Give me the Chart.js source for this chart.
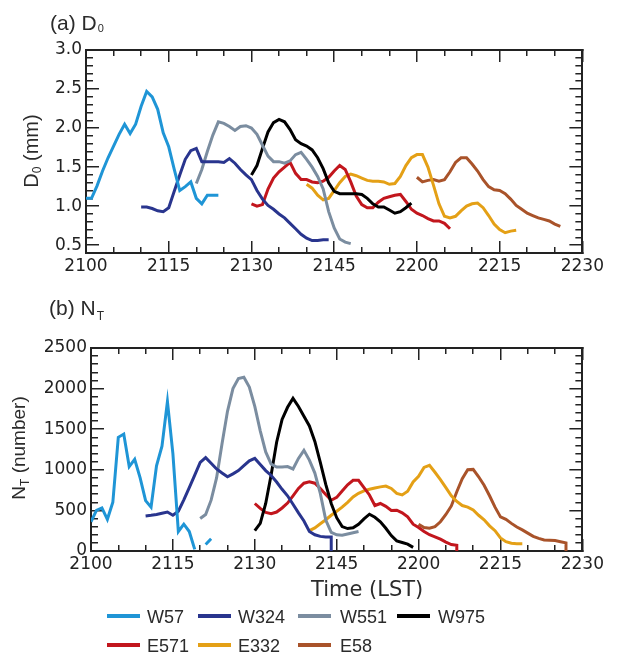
<!DOCTYPE html>
<html>
<head>
<meta charset="utf-8">
<script src="https://cdn.jsdelivr.net/npm/chart.js@4.4.0/dist/chart.umd.min.js"></script>
<style>
  html, body { margin: 0; padding: 0; background: #fff; }
  #wrap { position: relative; width: 619px; height: 653px; overflow: hidden;
          font-family: 'Liberation Sans', Arial, sans-serif; color: #2b2b2b; }
  canvas { position: absolute; left: 0; }
  #chartA { top: 0; }
  #chartB { top: 300px; }
  .txt { position: absolute; white-space: nowrap; line-height: 1; }
  .panel { font-size: 21px; }
  .ytitle { font-size: 20px; transform: translate(-50%, -50%) rotate(-90deg); }
  .xtitle { font-family: 'DejaVu Sans', sans-serif; font-size: 21px; }
  .sub { position: relative; }
  .leg { position: absolute; font-size: 18px; line-height: 18px; white-space: nowrap; }
  .sw { position: absolute; width: 33px; height: 4px; }
</style>
</head>
<body>
<div id="wrap">
  <canvas id="chartA" width="619" height="300"></canvas>
  <canvas id="chartB" width="619" height="300"></canvas>

  <div class="txt panel" style="left:50px; top:12px;">(a) D<span class="sub" style="font-size:11px; top:2px; margin-left:1px;">0</span></div>
  <div class="txt panel" style="left:49px; top:297px;">(b) N<span class="sub" style="font-size:12px; top:5px; margin-left:1px;">T</span></div>

  <div class="txt ytitle" style="left:31px; top:151px;">D<span class="sub" style="font-size:12px; top:3px;">0</span> (mm)</div>
  <div class="txt ytitle" style="left:18px; top:448px; font-size:19px;">N<span class="sub" style="font-size:12px; top:4px;">T</span> (number)</div>

  <div class="txt xtitle" style="left:311px; top:579px;">Time (LST)</div>
  <div id="legend"></div>
</div>

<script>
// minutes after 2100 LST on the x axis
const xTicks = [0, 15, 30, 45, 60, 75, 90];
const xTickLabels = ['2100', '2115', '2130', '2145', '2200', '2215', '2230'];
const yTicksD0 = [0.5, 1.0, 1.5, 2.0, 2.5, 3.0];
const yTicksNT = [0, 500, 1000, 1500, 2000, 2500];

const seriesNames = ['W57', 'W324', 'W551', 'W975', 'E571', 'E332', 'E58'];
const seriesColors = ['#1f95d6', '#29358e', '#7b8da0', '#000000', '#c2161d', '#e4a016', '#a9532a'];

// (a) median volume diameter D0 (mm), one value per minute from the start minute
const d0Start = [0, 10, 20, 30, 30, 40, 60];
const d0W57 = [1.10, 1.10, 1.26, 1.45, 1.62, 1.77, 1.92, 2.05, 1.93, 2.05, 2.28, 2.47, 2.40, 2.24, 1.94, 1.76, 1.47, 1.20, 1.25, 1.31, 1.10, 1.03, 1.14, 1.14, 1.14];
const d0W324 = [0.99, 0.99, 0.97, 0.94, 0.93, 0.98, 1.19, 1.40, 1.60, 1.71, 1.74, 1.57, 1.57, 1.57, 1.57, 1.56, 1.61, 1.55, 1.47, 1.40, 1.34, 1.20, 1.09, 1.01, 0.96, 0.90, 0.85, 0.78, 0.71, 0.64, 0.59, 0.56, 0.56, 0.57, 0.57];
const d0W551 = [1.29, 1.47, 1.70, 1.91, 2.08, 2.06, 2.02, 1.97, 2.02, 2.03, 2.00, 1.92, 1.78, 1.64, 1.57, 1.57, 1.55, 1.58, 1.66, 1.69, 1.60, 1.50, 1.38, 1.22, 0.93, 0.72, 0.58, 0.54, 0.52];
const d0W975 = [1.40, 1.52, 1.74, 1.95, 2.07, 2.11, 2.08, 1.98, 1.85, 1.80, 1.77, 1.72, 1.62, 1.48, 1.30, 1.19, 1.16, 1.16, 1.16, 1.16, 1.15, 1.10, 1.03, 0.99, 0.99, 0.95, 0.91, 0.93, 0.98, 1.04];
const d0E571 = [1.03, 1.00, 1.02, 1.22, 1.36, 1.44, 1.50, 1.56, 1.42, 1.34, 1.34, 1.31, 1.30, 1.32, 1.37, 1.45, 1.52, 1.47, 1.31, 1.13, 1.02, 0.98, 0.98, 1.05, 1.10, 1.12, 1.14, 1.15, 1.06, 0.96, 0.91, 0.88, 0.84, 0.81, 0.81, 0.78, 0.71];
const d0E332 = [1.28, 1.23, 1.14, 1.08, 1.10, 1.20, 1.30, 1.38, 1.41, 1.39, 1.36, 1.33, 1.32, 1.32, 1.31, 1.28, 1.29, 1.38, 1.52, 1.62, 1.66, 1.66, 1.50, 1.27, 1.03, 0.87, 0.85, 0.87, 0.94, 1.00, 1.03, 1.04, 0.98, 0.88, 0.77, 0.70, 0.66, 0.68, 0.69];
const d0E58 = [1.37, 1.31, 1.33, 1.34, 1.32, 1.34, 1.44, 1.56, 1.62, 1.62, 1.54, 1.45, 1.34, 1.25, 1.21, 1.20, 1.16, 1.09, 1.01, 0.96, 0.91, 0.88, 0.85, 0.83, 0.81, 0.77, 0.74];

// (b) total number concentration NT, one value per minute from the start minute
const ntStart = [0, 10, 20, 30, 30, 40, 60];
const ntW57 = [360, 500, 530, 390, 600, 1400, 1440, 1040, 1130, 900, 620, 540, 1050, 1290, 1840, 1200, 240, 330, 240, 20, null, 80, 150];
const ntW324 = [432, 440, 450, 465, 480, 441, 490, 630, 780, 935, 1090, 1150, 1080, 1010, 960, 914, 950, 990, 1050, 1110, 1140, 1065, 990, 930, 850, 760, 680, 575, 470, 370, 240, 200, 180, 173, 173];
const ntW551 = [400, 450, 626, 900, 1320, 1720, 2000, 2125, 2140, 2020, 1780, 1480, 1220, 1070, 1035, 1035, 1040, 1010, 1140, 1240, 1120, 960, 710, 380, 230, 200, 195, 210, 225, 240];
const ntW975 = [250, 340, 585, 940, 1340, 1620, 1770, 1880, 1780, 1660, 1540, 1350, 1090, 820, 585, 410, 300, 276, 285, 330, 395, 453, 415, 360, 280, 190, 125, 105, 85, 45];
const ntE571 = [585, 525, 475, 460, 480, 530, 590, 680, 770, 835, 853, 835, 770, 695, 625, 660, 740, 815, 870, 870, 780, 690, 560, 585, 550, 500, 503, 470, 420, 330, 290, 240, 200, 175, 145, 110, 80, 70];
const ntE332 = [250, 285, 335, 385, 440, 490, 540, 600, 665, 710, 740, 760, 775, 790, 800, 770, 710, 690, 735, 850, 920, 1030, 1055, 970, 880, 780, 680, 610, 560, 540, 505, 440, 385, 310, 250, 160, 115, 95, 90, 90];
const ntE58 = [330, 290, 280, 300, 360, 450, 555, 730, 890, 1000, 1005, 914, 810, 680, 540, 420, 390, 340, 295, 260, 220, 180, 155, 135, 132, 130, 115, 100];
// these records end with a drop straight down to zero
const ntEndsAtZero = ['W324', 'E571', 'E58'];

const d0Values = [d0W57, d0W324, d0W551, d0W975, d0E571, d0E332, d0E58];
const ntValues = [ntW57, ntW324, ntW551, ntW975, ntE571, ntE332, ntE58];

function toPoints(start, values) {
  return values.map((v, i) => ({ x: start + i, y: v }));
}

function makeDatasets(starts, values, dropToZero) {
  return seriesNames.map((name, k) => {
    const pts = toPoints(starts[k], values[k]);
    if (dropToZero && dropToZero.includes(name)) {
      pts.push({ x: pts[pts.length - 1].x, y: 0 });
    }
    return {
      label: name,
      data: pts,
      xAxisID: 'x',
      yAxisID: 'y',
      borderColor: seriesColors[k],
      backgroundColor: seriesColors[k],
      borderWidth: 3,
      pointRadius: 0,
      tension: 0,
      fill: false,
      spanGaps: false
    };
  });
}

function stepValues(min, max, step) {
  const out = [];
  const k0 = Math.ceil(min / step - 1e-6);
  const k1 = Math.floor(max / step + 1e-6);
  for (let k = k0; k <= k1; k++) out.push(+(k * step).toFixed(6));
  return out;
}

const tickFont = { family: "'DejaVu Sans', sans-serif", size: 17 };
const frameColor = '#222';

// an extra axis with no labels that only draws inward tick marks (negative tick length)
function edgeScale(position, min, max, values, tickLen, weight, border) {
  const horizontal = position === 'top' || position === 'bottom';
  return {
    type: 'linear',
    position: position,
    min: min,
    max: max,
    weight: weight,
    afterBuildTicks: (s) => { s.ticks = values.map((v) => ({ value: v })); },
    afterFit: (s) => { if (horizontal) s.height = 0; else s.width = 0; },
    ticks: { display: false, autoSkip: false },
    grid: {
      display: true,
      drawOnChartArea: false,
      drawTicks: true,
      tickLength: -tickLen,
      tickWidth: 1.5,
      tickColor: frameColor,
      lineWidth: 1.5,
      color: frameColor
    },
    border: { display: border, color: frameColor, width: 2 }
  };
}

function panelOptions(p) {
  const xMinor = stepValues(0, 90, 5).filter((v) => v % 15 !== 0);
  const yMinor = stepValues(p.yMin, p.yMax, p.yStep).filter((v) => !p.yTicks.includes(v));
  return {
    responsive: false,
    animation: false,
    layout: { padding: { top: p.top, right: 29, left: 0, bottom: 0 } },
    plugins: {
      legend: { display: false },
      tooltip: { enabled: false }
    },
    scales: {
      x: {
        type: 'linear',
        position: 'bottom',
        min: 0,
        max: 90,
        weight: 1,
        afterBuildTicks: (s) => { s.ticks = xTicks.map((v) => ({ value: v })); },
        afterFit: (s) => { s.height = p.xHeight; },
        ticks: {
          font: tickFont,
          color: '#222',
          padding: 15,
          maxRotation: 0,
          autoSkip: false,
          callback: (v) => xTickLabels[xTicks.indexOf(v)]
        },
        grid: {
          display: true,
          drawOnChartArea: false,
          drawTicks: true,
          tickLength: -12,
          tickWidth: 1.5,
          tickColor: frameColor,
          lineWidth: 1.5,
          color: frameColor
        },
        border: { display: true, color: frameColor, width: 2 }
      },
      y: {
        type: 'linear',
        position: 'left',
        min: p.yMin,
        max: p.yMax,
        weight: 1,
        afterBuildTicks: (s) => { s.ticks = p.yTicks.map((v) => ({ value: v })); },
        afterFit: (s) => { s.width = p.yWidth; },
        ticks: {
          font: tickFont,
          color: '#222',
          padding: 17,
          callback: p.yFormat
        },
        grid: {
          display: true,
          drawOnChartArea: false,
          drawTicks: true,
          tickLength: -13,
          tickWidth: 1.5,
          tickColor: frameColor,
          lineWidth: 1.5,
          color: frameColor
        },
        border: { display: true, color: frameColor, width: 2 }
      },
      xMinor: edgeScale('bottom', 0, 90, xMinor, 6, 0, false),
      yMinor: edgeScale('left', p.yMin, p.yMax, yMinor, 7, 0, false),
      xTop: edgeScale('top', 0, 90, xTicks, 12, 1, true),
      xTopMinor: edgeScale('top', 0, 90, xMinor, 6, 0, false),
      yRight: edgeScale('right', p.yMin, p.yMax, p.yTicks, 13, 1, true),
      yRightMinor: edgeScale('right', p.yMin, p.yMax, yMinor, 7, 0, false)
    }
  };
}

new Chart(document.getElementById('chartA'), {
  type: 'line',
  data: { datasets: makeDatasets(d0Start, d0Values, null) },
  options: panelOptions({
    top: 50, xHeight: 47, yWidth: 86, yMin: 0.4, yMax: 3.0, yStep: 0.1,
    yTicks: yTicksD0, yFormat: (v) => v.toFixed(1)
  })
});

new Chart(document.getElementById('chartB'), {
  type: 'line',
  data: { datasets: makeDatasets(ntStart, ntValues, ntEndsAtZero) },
  options: panelOptions({
    top: 48, xHeight: 49, yWidth: 91, yMin: 0, yMax: 2500, yStep: 100,
    yTicks: yTicksNT, yFormat: (v) => String(v)
  })
});

// legend: two rows, 4 + 3 entries
const legendCols = [[107, 147], [198, 238], [298, 340], [397, 438]];
const legendRows = [608, 637];
const legend = document.getElementById('legend');
seriesNames.forEach((name, k) => {
  const col = legendCols[k % 4];
  const top = legendRows[Math.floor(k / 4)];
  const sw = document.createElement('div');
  sw.className = 'sw';
  sw.style.left = col[0] + 'px';
  sw.style.top = (top + 6) + 'px';
  sw.style.background = seriesColors[k];
  const tx = document.createElement('div');
  tx.className = 'leg';
  tx.style.left = col[1] + 'px';
  tx.style.top = top + 'px';
  tx.textContent = name;
  legend.appendChild(sw);
  legend.appendChild(tx);
});
</script>
</body>
</html>
